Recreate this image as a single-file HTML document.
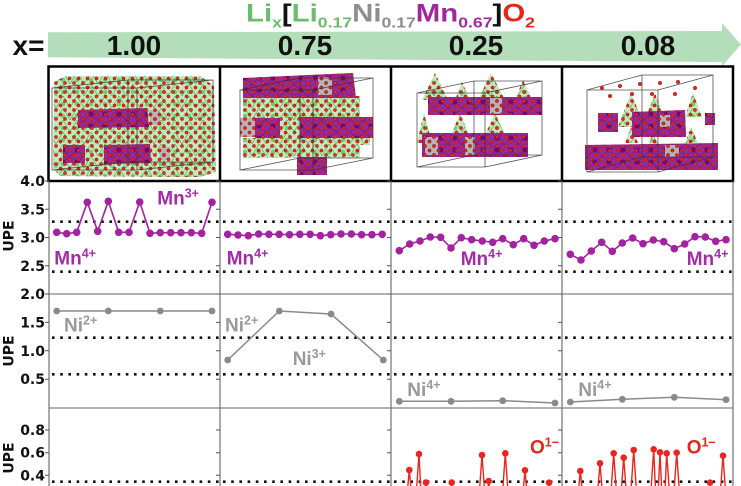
<!DOCTYPE html>
<html><head><meta charset="utf-8"><style>html,body{margin:0;padding:0;background:#fff;overflow:hidden;width:741px;height:486px}svg{display:block}</style></head>
<body>
<svg width="741" height="486" viewBox="0 0 741 486" xmlns="http://www.w3.org/2000/svg">
<defs>
<pattern id="od" width="9" height="9" patternUnits="userSpaceOnUse"><circle cx="2" cy="2" r="1.6" fill="#e52a1f" stroke="#9a1410" stroke-width=".5"/><circle cx="6.5" cy="6.5" r="1.6" fill="#e52a1f" stroke="#9a1410" stroke-width=".5"/></pattern>
<pattern id="gt" width="14" height="12" patternUnits="userSpaceOnUse"><path d="M0 12L7 0L14 12" fill="none" stroke="#5fae5a" stroke-width=".7"/><circle cx="7" cy="8" r="2.3" fill="#6fcf67"/></pattern>
<pattern id="pt" width="14" height="12" patternUnits="userSpaceOnUse"><path d="M0 0L14 12M14 0L0 12" stroke="#5e0c66" stroke-width=".5"/><circle cx="7" cy="6" r="2.6" fill="#6d0a78"/></pattern>
<g id="grn">
<polygon points="54,82 66,76 200,76 214,86 216,172 200,177 60,176 53,168"/>
<rect x="243" y="96" width="117" height="22"/><rect x="280" y="118" width="20" height="20"/><rect x="243" y="138" width="117" height="20"/><rect x="355" y="120" width="15" height="25"/>
<polygon points="422,100 435,73 448,100"/><polygon points="455,100 462,82 470,100"/><polygon points="478,100 491,73 505,100"/><polygon points="515,100 523,80 532,100"/><polygon points="417,143 424,113 432,143"/><polygon points="452,133 460,113 468,133"/><polygon points="485,135 495,113 505,135"/><polygon points="425,100 432,84 440,100"/>
<polygon points="618,127 631,93 645,127"/><polygon points="645,120 655,93 665,120"/><polygon points="685,117 693,93 702,117"/><polygon points="625,143 631,127 638,143"/><polygon points="642,160 653,133 665,160"/><polygon points="685,143 691,127 698,143"/>
</g>
<g id="pur">
<polygon points="78,110 147,108 149,127 78,128"/><rect x="63" y="145" width="22" height="18"/><polygon points="104,145 150,144 151,163 104,164"/>
<polygon points="243,78 353,73 356,98 243,98"/><rect x="255" y="118" width="25" height="20"/><rect x="300" y="117" width="73" height="21"/><rect x="297" y="157" width="30" height="18"/>
<rect x="428" y="97" width="114" height="18"/><rect x="422" y="133" width="106" height="24"/>
<rect x="598" y="113" width="20" height="19"/><polygon points="632,112 685,110 686,137 632,137"/><rect x="705" y="113" width="10" height="12"/><polygon points="585,145 718,143 718,170 585,170"/>
</g>
<g id="gry">
<rect x="150" y="110" width="10" height="15"/><rect x="160" y="147" width="10" height="13"/>
<rect x="240" y="118" width="15" height="19"/><rect x="318" y="77" width="14" height="18"/>
<rect x="490" y="98" width="12" height="16"/><rect x="425" y="137" width="13" height="18"/><rect x="465" y="137" width="10" height="18"/>
<rect x="665" y="145" width="14" height="12"/><rect x="660" y="115" width="10" height="12"/>
</g>
<g id="tk" stroke="#555" stroke-width="1">
<path d="M45 181H49M45 209.3H49M45 237.5H49M45 265.8H49M45 294H49M45 322.4H49M45 350.8H49M45 379.2H49M45 430H49M45 452.7H49M45 475.3H49"/>
</g>
<g id="dl" stroke="#111" stroke-width="2.6" stroke-dasharray="2.6 5.6">
<line x1="52" x2="220" y1="221.7" y2="221.7"/><line x1="52" x2="220" y1="271.7" y2="271.7"/><line x1="52" x2="220" y1="337.7" y2="337.7"/><line x1="52" x2="220" y1="374.3" y2="374.3"/><line x1="52" x2="220" y1="481.7" y2="481.7"/>
</g>
</defs>
<rect width="741" height="486" fill="#fff"/>

<!-- header arrow -->
<polygon points="48,32.3 722,31 722,23 741,44.5 722,66 722,62 48,57.3" fill="#b4deb9"/>
<text x="246" y="21.7" font-family="Liberation Sans, Arial, sans-serif" font-weight="bold" font-size="25" textLength="289" lengthAdjust="spacingAndGlyphs"><tspan fill="#6bbd6e">Li</tspan><tspan fill="#6bbd6e" font-size="15" dy="6">x</tspan><tspan fill="#111" dy="-6">[</tspan><tspan fill="#6bbd6e">Li</tspan><tspan fill="#6bbd6e" font-size="15" dy="6">0.17</tspan><tspan fill="#8e8e8e" dy="-6">Ni</tspan><tspan fill="#8e8e8e" font-size="15" dy="6">0.17</tspan><tspan fill="#a0289f" dy="-6">Mn</tspan><tspan fill="#a0289f" font-size="15" dy="6">0.67</tspan><tspan fill="#111" dy="-6">]</tspan><tspan fill="#e3261e">O</tspan><tspan fill="#e3261e" font-size="15" dy="6">2</tspan></text>
<g font-family="Liberation Sans, Arial, sans-serif" font-weight="bold" font-size="28" fill="#111">
<text x="12.5" y="55">x=</text>
<text x="134" y="55" text-anchor="middle">1.00</text>
<text x="305" y="55" text-anchor="middle">0.75</text>
<text x="476" y="55" text-anchor="middle">0.25</text>
<text x="648" y="55" text-anchor="middle">0.08</text>
</g>

<!-- structures -->
<use href="#grn" fill="#c3e8bb"/>
<use href="#grn" fill="url(#gt)"/>
<use href="#pur" fill="#952a9c"/>
<use href="#pur" fill="url(#pt)"/>
<use href="#gry" fill="#b5b5b8"/>
<use href="#grn" fill="url(#od)"/>
<use href="#pur" fill="url(#od)"/>
<use href="#gry" fill="url(#od)"/>
<g fill="#e52a1f" stroke="#9a1410" stroke-width=".5">
<circle cx="602" cy="88" r="1.8"/><circle cx="620" cy="86" r="1.8"/><circle cx="640" cy="84" r="1.8"/><circle cx="660" cy="83" r="1.8"/><circle cx="678" cy="82" r="1.8"/><circle cx="695" cy="88" r="1.8"/><circle cx="610" cy="96" r="1.8"/><circle cx="632" cy="94" r="1.8"/><circle cx="652" cy="94" r="1.8"/><circle cx="675" cy="94" r="1.8"/>
</g>
<g fill="none" stroke="#333" stroke-width=".8" opacity=".85">
<path d="M52 88H137V170H52ZM128 80H213V162H128ZM52 88L128 80M137 88L213 80M137 170L213 162M52 170L128 162"/>
<path d="M240 90H313V170H240ZM300 78H373V158H300ZM240 90L300 78M313 90L373 78M313 170L373 158M240 170L300 158"/>
<path d="M417 93H485V167H417ZM474 81H542V155H474ZM417 93L474 81M485 93L542 81M485 167L542 155M417 167L474 155"/>
<path d="M587 90H658V172H587ZM642 75H713V157H642ZM587 90L642 75M658 90L713 75M658 172L713 157M587 172L642 157"/>
</g>
<g fill="none" stroke="#000" stroke-width="2.5">
<rect x="48.5" y="66.5" width="684.5" height="114.5"/>
<path d="M220 66.5V181M391 66.5V181M562 66.5V181"/>
</g>

<!-- plot frame -->
<g stroke="#555" stroke-width="1" fill="none">
<path d="M49 181V486M220 181V486M391 181V486M562 181V486M733 181V486"/>
<path d="M49 294H733M49 408H733" stroke="#666"/>
</g>
<use href="#tk"/><use href="#tk" x="171"/><use href="#tk" x="342"/><use href="#tk" x="513"/>
<use href="#dl"/><use href="#dl" x="171"/><use href="#dl" x="342"/><use href="#dl" x="513"/>

<!-- tick labels -->
<g font-family="DejaVu Sans, sans-serif" font-weight="bold" font-size="14" fill="#111" text-anchor="end">
<text x="45" y="186">4.0</text><text x="45" y="214.3">3.5</text><text x="45" y="242.5">3.0</text><text x="45" y="270.8">2.5</text><text x="45" y="299">2.0</text>
<text x="45" y="327.4">1.5</text><text x="45" y="355.8">1.0</text><text x="45" y="384.2">0.5</text>
<text x="45" y="435">0.8</text><text x="45" y="457.7">0.6</text><text x="45" y="480.3">0.4</text>
</g>
<g font-family="DejaVu Sans, sans-serif" font-weight="bold" font-size="14" fill="#111" text-anchor="middle">
<text transform="translate(13.5,236) rotate(-90)">UPE</text>
<text transform="translate(13.5,351) rotate(-90)">UPE</text>
<text transform="translate(13.5,458) rotate(-90)">UPE</text>
</g>

<!-- Mn series -->
<g stroke="#a3229f" stroke-width="1.6" fill="none">
<polyline points="56.7,232.3 66.7,233.7 76.7,232.3 87.3,202.3 97.7,231.3 108.3,201.3 118.7,232.3 129,232.3 139.7,202 150,233.3 160.3,232.7 170.7,232.7 181,232.7 191.3,232.7 201.7,233.3 212,202.3"/>
<polyline points="227.7,234.3 238,235 248.3,235.7 258.6,234 268.9,234.3 279.2,234.3 289.5,234.7 299.8,234.3 310.1,234.3 320.4,235.7 330.7,234.7 341,234 351.3,234 361.6,234.7 371.9,234.7 382.2,234.3"/>
<polyline points="399.3,250.7 409.7,244 420,241 430.3,237 440.7,237.3 451,248 461.3,237.7 471.7,239.7 482.3,241 492.7,242.3 502.7,238.7 513.3,244.7 523.7,238.7 534,245.3 544.3,241 555,238.7"/>
<polyline points="570.3,254.3 581,260 591.3,251 601.7,242.3 612.3,251.3 622.3,243 632.7,238 643,243.7 653.3,240 663.7,241.7 674.3,248.7 684.7,244 695,236.7 705.3,237 715.7,241.3 726,239.7"/>
</g>
<g fill="#a3229f">
<circle cx="56.7" cy="232.3" r="3.8"/><circle cx="66.7" cy="233.7" r="3.8"/><circle cx="76.7" cy="232.3" r="3.8"/><circle cx="87.3" cy="202.3" r="3.8"/><circle cx="97.7" cy="231.3" r="3.8"/><circle cx="108.3" cy="201.3" r="3.8"/><circle cx="118.7" cy="232.3" r="3.8"/><circle cx="129" cy="232.3" r="3.8"/><circle cx="139.7" cy="202" r="3.8"/><circle cx="150" cy="233.3" r="3.8"/><circle cx="160.3" cy="232.7" r="3.8"/><circle cx="170.7" cy="232.7" r="3.8"/><circle cx="181" cy="232.7" r="3.8"/><circle cx="191.3" cy="232.7" r="3.8"/><circle cx="201.7" cy="233.3" r="3.8"/><circle cx="212" cy="202.3" r="3.8"/>
<circle cx="227.7" cy="234.3" r="3.8"/><circle cx="238" cy="235" r="3.8"/><circle cx="248.3" cy="235.7" r="3.8"/><circle cx="258.6" cy="234" r="3.8"/><circle cx="268.9" cy="234.3" r="3.8"/><circle cx="279.2" cy="234.3" r="3.8"/><circle cx="289.5" cy="234.7" r="3.8"/><circle cx="299.8" cy="234.3" r="3.8"/><circle cx="310.1" cy="234.3" r="3.8"/><circle cx="320.4" cy="235.7" r="3.8"/><circle cx="330.7" cy="234.7" r="3.8"/><circle cx="341" cy="234" r="3.8"/><circle cx="351.3" cy="234" r="3.8"/><circle cx="361.6" cy="234.7" r="3.8"/><circle cx="371.9" cy="234.7" r="3.8"/><circle cx="382.2" cy="234.3" r="3.8"/>
<circle cx="399.3" cy="250.7" r="3.8"/><circle cx="409.7" cy="244" r="3.8"/><circle cx="420" cy="241" r="3.8"/><circle cx="430.3" cy="237" r="3.8"/><circle cx="440.7" cy="237.3" r="3.8"/><circle cx="451" cy="248" r="3.8"/><circle cx="461.3" cy="237.7" r="3.8"/><circle cx="471.7" cy="239.7" r="3.8"/><circle cx="482.3" cy="241" r="3.8"/><circle cx="492.7" cy="242.3" r="3.8"/><circle cx="502.7" cy="238.7" r="3.8"/><circle cx="513.3" cy="244.7" r="3.8"/><circle cx="523.7" cy="238.7" r="3.8"/><circle cx="534" cy="245.3" r="3.8"/><circle cx="544.3" cy="241" r="3.8"/><circle cx="555" cy="238.7" r="3.8"/>
<circle cx="570.3" cy="254.3" r="3.8"/><circle cx="581" cy="260" r="3.8"/><circle cx="591.3" cy="251" r="3.8"/><circle cx="601.7" cy="242.3" r="3.8"/><circle cx="612.3" cy="251.3" r="3.8"/><circle cx="622.3" cy="243" r="3.8"/><circle cx="632.7" cy="238" r="3.8"/><circle cx="643" cy="243.7" r="3.8"/><circle cx="653.3" cy="240" r="3.8"/><circle cx="663.7" cy="241.7" r="3.8"/><circle cx="674.3" cy="248.7" r="3.8"/><circle cx="684.7" cy="244" r="3.8"/><circle cx="695" cy="236.7" r="3.8"/><circle cx="705.3" cy="237" r="3.8"/><circle cx="715.7" cy="241.3" r="3.8"/><circle cx="726" cy="239.7" r="3.8"/>
</g>
<g font-family="Liberation Sans, Arial, sans-serif" font-weight="bold" font-size="19" fill="#a32ca6">
<text x="157.3" y="204.3">Mn<tspan font-size="12.5" dy="-7">3+</tspan></text>
<text x="54.3" y="264.3">Mn<tspan font-size="12.5" dy="-7">4+</tspan></text>
<text x="226.7" y="264.3">Mn<tspan font-size="12.5" dy="-7">4+</tspan></text>
<text x="460.7" y="265">Mn<tspan font-size="12.5" dy="-7">4+</tspan></text>
<text x="686.7" y="265">Mn<tspan font-size="12.5" dy="-7">4+</tspan></text>
</g>

<!-- Ni series -->
<g stroke="#8a8a8a" stroke-width="1.5" fill="none">
<polyline points="56.7,311 108.3,311 160.3,311 212,311"/>
<polyline points="227.7,360 279.3,311 331,314 383.3,360"/>
<polyline points="399.3,401.3 451,401.3 502.7,400.7 555,403"/>
<polyline points="570.3,402 622.3,399.3 674.3,397.3 726,399.7"/>
</g>
<g fill="#8a8a8a">
<circle cx="56.7" cy="311" r="3.4"/><circle cx="108.3" cy="311" r="3.4"/><circle cx="160.3" cy="311" r="3.4"/><circle cx="212" cy="311" r="3.4"/>
<circle cx="227.7" cy="360" r="3.4"/><circle cx="279.3" cy="311" r="3.4"/><circle cx="331" cy="314" r="3.4"/><circle cx="383.3" cy="360" r="3.4"/>
<circle cx="399.3" cy="401.3" r="3.4"/><circle cx="451" cy="401.3" r="3.4"/><circle cx="502.7" cy="400.7" r="3.4"/><circle cx="555" cy="403" r="3.4"/>
<circle cx="570.3" cy="402" r="3.4"/><circle cx="622.3" cy="399.3" r="3.4"/><circle cx="674.3" cy="397.3" r="3.4"/><circle cx="726" cy="399.7" r="3.4"/>
</g>
<g font-family="Liberation Sans, Arial, sans-serif" font-weight="bold" font-size="19" fill="#9a9a9a">
<text x="64" y="331.7">Ni<tspan font-size="12.5" dy="-7">2+</tspan></text>
<text x="225" y="331.7">Ni<tspan font-size="12.5" dy="-7">2+</tspan></text>
<text x="292.7" y="365">Ni<tspan font-size="12.5" dy="-7">3+</tspan></text>
<text x="407.3" y="396">Ni<tspan font-size="12.5" dy="-7">4+</tspan></text>
<text x="578.3" y="396">Ni<tspan font-size="12.5" dy="-7">4+</tspan></text>
</g>

<!-- O series (spikes truncated at frame bottom) -->
<g stroke="#e8261f" stroke-width="1.4" fill="none" stroke-linejoin="round">
<path d="M407.85 486L409.3 470L410.75 486M416.75 486L419 454L420.6 486M425.64 486L426 483L426.36 486M451.31 486L451.7 482.7L452.09 486M479.79 486L482 455L484.21 486M488.13 486L488.7 481L489.27 486M503.02 486L505.3 453.3L507.58 486M523.56 486L525 470.3L526.44 486M548.88 486L549 485L549.12 486"/>
<path d="M578.91 486L580.3 471L581.69 486M598.16 486L600 463.3L601.84 486M611.42 486L613.7 453.3L615.98 486M621.6 486L623.7 457.7L625.8 486M631.3 486L633.7 450L636.1 486M651.28 486L653.7 449.3L655.3 486M658.47 486L660 452.3L661.53 486M665.2 486L666.7 453.3L668.98 486M674.42 486L676.7 452.7L678.98 486M720.81 486L723 455.7L725.19 486"/>
</g>
<g fill="#e8261f">
<circle cx="409.3" cy="470" r="3.3"/><circle cx="419" cy="454" r="3.3"/><circle cx="426" cy="482.5" r="3.3"/><circle cx="451.7" cy="482.5" r="3.3"/><circle cx="482" cy="455" r="3.3"/><circle cx="488.7" cy="481" r="3.3"/><circle cx="505.3" cy="453.3" r="3.3"/><circle cx="525" cy="470.3" r="3.3"/><circle cx="549" cy="482.7" r="3.3"/>
<circle cx="580.3" cy="471" r="3.3"/><circle cx="600" cy="463.3" r="3.3"/><circle cx="613.7" cy="453.3" r="3.3"/><circle cx="623.7" cy="457.7" r="3.3"/><circle cx="633.7" cy="450" r="3.3"/><circle cx="653.7" cy="449.3" r="3.3"/><circle cx="660" cy="452.3" r="3.3"/><circle cx="666.7" cy="453.3" r="3.3"/><circle cx="676.7" cy="452.7" r="3.3"/><circle cx="710" cy="482.7" r="3.3"/><circle cx="723" cy="455.7" r="3.3"/>
</g>
<g font-family="Liberation Sans, Arial, sans-serif" font-weight="bold" font-size="19" fill="#e3261e">
<text x="530" y="453.3">O<tspan font-size="12.5" dy="-7">1−</tspan></text>
<text x="686.7" y="453.3">O<tspan font-size="12.5" dy="-7">1−</tspan></text>
</g>
</svg>
</body></html>
